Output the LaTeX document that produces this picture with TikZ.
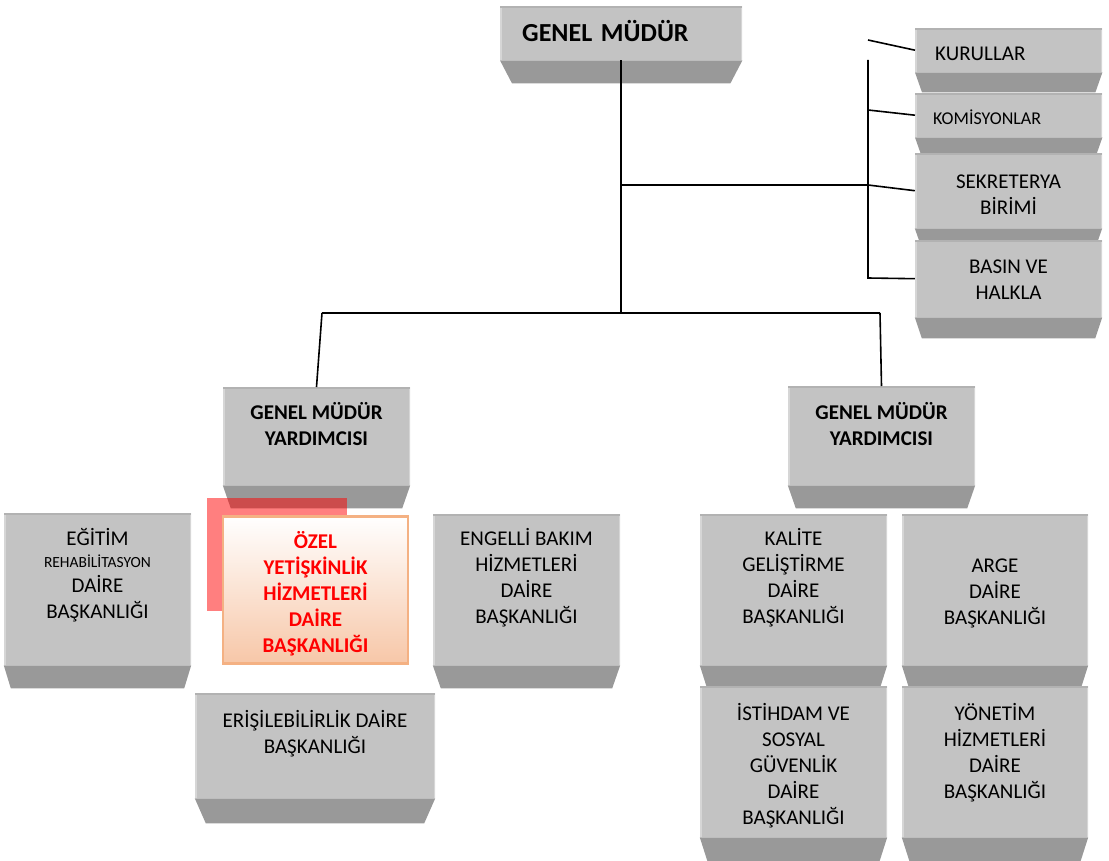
\documentclass[tikz,border=0pt]{standalone}
\usepackage{fontspec}
\setmainfont{Carlito}
\usetikzlibrary{backgrounds}
\definecolor{boxgray}{RGB}{195,195,195}
\definecolor{basegray}{RGB}{153,153,153}
\definecolor{topedge}{RGB}{178,178,178}
\definecolor{sideedge}{RGB}{214,214,214}
\definecolor{peach}{RGB}{244,177,131}
\definecolor{peachfill}{RGB}{247,199,168}
\begin{document}
\begin{tikzpicture}[x=1pt, y=-1pt,
	box/.style={rectangle, fill=boxgray, inner sep=0pt, anchor=north, align=center, minimum width=187pt,
		font=\fontsize{21}{26}\selectfont,
		path picture={
			\draw[sideedge, line width=3pt] (path picture bounding box.north west) -- (path picture bounding box.south west)
				(path picture bounding box.north east) -- (path picture bounding box.south east);
			\draw[topedge, line width=3pt] (path picture bounding box.north west) -- (path picture bounding box.north east);}},
	chief/.style={font=\bfseries\fontsize{21}{26}\selectfont},
	ozelbox/.style={rectangle, inner sep=0pt, anchor=north, align=center, minimum width=185pt, draw=peach, line width=2.5pt,
		top color=white, bottom color=peachfill, text=red, font=\bfseries\fontsize{21}{26}\selectfont},
	conn/.style={draw=black, line width=1.6pt}]
	\useasboundingbox (0,0) rectangle (1109,861);

	% top
	\node (gm) at (500,6) [box, anchor=north west, text width=198pt, inner xsep=22pt, align=left, text height=35.5pt, text depth=18.5pt, font=\bfseries\fontsize{26}{31}\selectfont] {\mbox{GENEL MÜDÜR}};

	% right column
	\node (kur) at (915,28)  [box, anchor=north west, text width=147pt, inner xsep=20pt, align=left, text height=32pt, text depth=12pt] {KURULLAR};
	\node (kom) at (915,93)  [box, anchor=north west, text width=151pt, inner xsep=18pt, align=left, text height=31pt, text depth=13pt, font=\fontsize{18}{22}\selectfont] {KOMİSYONLAR};
	\node (sek) at (1008.5,153) [box, text height=61pt, text depth=14pt] {SEKRETERYA\\BİRİMİ};
	\node (bas) at (1008.5,240) [box, text height=59pt, text depth=18pt] {BASIN VE\\HALKLA};

	% deputies
	\node (gmyl) at (316.5,387) [box, chief, text height=58pt, text depth=40pt] {GENEL MÜDÜR\\YARDIMCISI};
	\node (gmyr) at (881.5,386) [box, chief, text height=59pt, text depth=40pt] {GENEL MÜDÜR\\YARDIMCISI};

	% left departments
	\node (egitim) at (97.5,513) [box, text height=105pt, text depth=47pt] {EĞİTİM\\[-4pt]{\fontsize{15.5}{20}\selectfont REHABİLİTASYON}\\[-1pt]DAİRE\\BAŞKANLIĞI};
	\fill[red, opacity=0.5] (207,498) rectangle (347,611);
	\node (ozel) at (315.5,515) [ozelbox, text height=136pt, text depth=11pt] {ÖZEL\\YETİŞKİNLİK\\HİZMETLERİ\\DAİRE\\BAŞKANLIĞI};
	\node (engelli) at (526.5,514) [box, text height=109pt, text depth=42pt] {ENGELLİ BAKIM\\HİZMETLERİ\\DAİRE\\BAŞKANLIĞI};
	\node (erisim) at (315,693) [box, minimum width=240pt, text height=60pt, text depth=45pt] {ERİŞİLEBİLİRLİK DAİRE\\BAŞKANLIĞI};

	% right departments
	\node (kalite) at (793.5,514) [box, text height=109pt, text depth=42pt] {KALİTE\\GELİŞTİRME\\DAİRE\\BAŞKANLIĞI};
	\node (arge) at (995,514) [box, minimum width=186pt, text height=110pt, text depth=41pt] {ARGE\\DAİRE\\BAŞKANLIĞI};
	\node (istihdam) at (793.5,686) [box, text height=138pt, text depth=13pt] {İSTİHDAM VE\\SOSYAL\\GÜVENLİK\\DAİRE\\BAŞKANLIĞI};
	\node (yonetim) at (995,686) [box, minimum width=186pt, text height=112pt, text depth=39pt] {YÖNETİM\\HİZMETLERİ\\DAİRE\\BAŞKANLIĞI};

	% bases
	\begin{pgfonlayer}{background}
	\foreach \n/\i/\h in {gm/12/23, kur/7/20, kom/7/20, sek/7/20, bas/7/21, gmyl/8/23, gmyr/8/23, egitim/7/23,
		engelli/8/23, erisim/11/25, kalite/7/22, arge/7/22, istihdam/8/25, yonetim/8/25}
		\fill[basegray] (\n.south west) -- (\n.south east) -- ([xshift=-\i pt, yshift=-\h pt]\n.south east)
			-- ([xshift=\i pt, yshift=-\h pt]\n.south west) -- cycle;
	\end{pgfonlayer}

	% connectors
	\coordinate (jl) at (322,313);
	\coordinate (jr) at (880,313);
	\coordinate (sb) at (868,185);
	\coordinate (kb) at (868,110);
	\coordinate (vt) at (868,60);
	\coordinate (vb) at (868,278);
	\coordinate (kt) at (868,40);
	\draw[conn] (gm.south) -- (gm.south |- jl);
	\draw[conn] (jl) -- (jr);
	\draw[conn] (jl) -- (gmyl.north);
	\draw[conn] (jr) -- (gmyr.north);
	\draw[conn] (gm.south |- sb) -- (sb) -- (sek.west);
	\draw[conn] (vt) -- (vb) -- (bas.west);
	\draw[conn] (kb) -- (kom.west);
	\draw[conn] (kt) -- (kur.west);
\end{tikzpicture}
\end{document}
